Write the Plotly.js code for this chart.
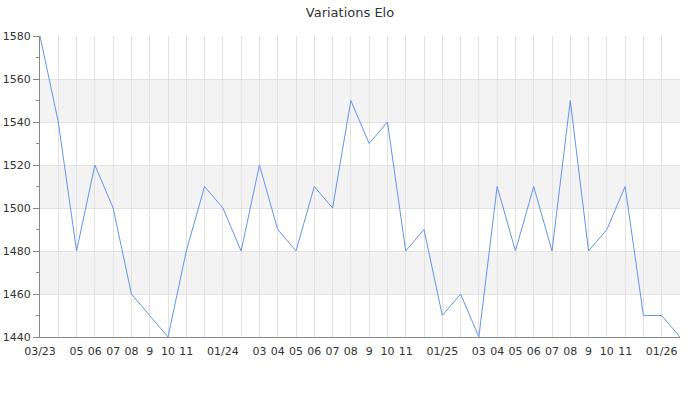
<!DOCTYPE html>
<html>
<head>
<meta charset="utf-8">
<script src="https://cdn.plot.ly/plotly-3.0.1.min.js"></script>
<style>html,body{margin:0;padding:0;background:#fff;}#chart{width:700px;height:400px;}</style>
</head>
<body>
<div id="chart"></div>
<script>
const months = [
  "2023-03","2023-04","2023-05","2023-06","2023-07","2023-08","2023-09","2023-10","2023-11","2023-12",
  "2024-01","2024-02","2024-03","2024-04","2024-05","2024-06","2024-07","2024-08","2024-09","2024-10","2024-11","2024-12",
  "2025-01","2025-02","2025-03","2025-04","2025-05","2025-06","2025-07","2025-08","2025-09","2025-10","2025-11","2025-12",
  "2026-01","2026-02"
];
const elo = [
  1580,1540,1480,1520,1500,1460,1450,1440,1480,1510,
  1500,1480,1520,1490,1480,1510,1500,1550,1530,1540,1480,1490,
  1450,1460,1440,1510,1480,1510,1480,1550,1480,1490,1510,1450,
  1450,1440
];
const tickLabels = [
  "03/23","","05","06","07","08","9","10","11","",
  "01/24","","03","04","05","06","07","08","9","10","11","",
  "01/25","","03","04","05","06","07","08","9","10","11","",
  "01/26",""
];
const bands = [[1460,1480],[1500,1520],[1540,1560]];

const shapes = bands.map(b => ({
  type:'rect', xref:'paper', yref:'y', x0:0, x1:1, y0:b[0], y1:b[1],
  fillcolor:'#f3f3f3', line:{width:0}, layer:'below'
}));

Plotly.newPlot('chart', [{
  x: months, y: elo, type:'scatter', mode:'lines',
  line:{color:'#6495ed', width:1}, hoverinfo:'x+y'
}], {
  width:700, height:400,
  margin:{l:40, r:20, t:36, b:63},
  paper_bgcolor:'#fff', plot_bgcolor:'#fff',
  font:{family:'DejaVu Sans', size:11, color:'#333'},
  title:{text:'Variations Elo', font:{family:'DejaVu Sans', size:13, color:'#333'}, x:0.5, xanchor:'center', y:0.97, yanchor:'middle', yref:'container'},
  showlegend:false,
  shapes: shapes,
  xaxis:{
    type:'category', range:[0, months.length-1],
    tickmode:'array', tickvals: months, ticktext: tickLabels,
    showgrid:true, gridcolor:'#e2e2e2', gridwidth:1,
    showline:true, linecolor:'#888', linewidth:1,
    ticks:'', tickangle:0, ticklabelstandoff:4, zeroline:false, fixedrange:true
  },
  yaxis:{
    range:[1440,1580], dtick:20, tick0:1440,
    showgrid:true, gridcolor:'#e2e2e2', gridwidth:1,
    showline:true, linecolor:'#888', linewidth:1,
    ticks:'outside', ticklen:6, tickcolor:'#888',
    minor:{dtick:10, ticks:'outside', ticklen:3, tickcolor:'#888', showgrid:false},
    zeroline:false, fixedrange:true
  }
}, {displayModeBar:false, staticPlot:true});
</script>
</body>
</html>
